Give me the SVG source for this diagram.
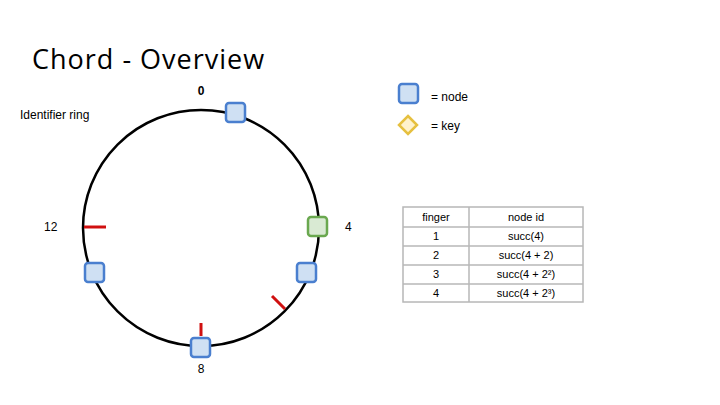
<svg xmlns="http://www.w3.org/2000/svg" width="720" height="405" viewBox="0 0 720 405">
<style>
text{font-family:"Liberation Sans",Arial,sans-serif;fill:#000}
.n{fill:#cfe0f3;stroke:#4a7fcf;stroke-width:2.5}
.g{fill:#d9ead3;stroke:#6aa84f;stroke-width:2.5}
.t{stroke:#d01010;stroke-width:3}
.c{fill:none;stroke:#b7b7b7;stroke-width:1.5}
.s{font-size:12px}
</style>
<rect width="720" height="405" fill="#fff"/>
<text x="32" y="69" font-size="27" style="font-family:'Open Sans',sans-serif;font-weight:500;letter-spacing:1px">Chord - Overview</text>
<text x="20" y="119" class="s">Identifier ring</text>
<g id="connectors">
<circle cx="201" cy="228" r="118" fill="none" stroke="#000" stroke-width="2.5"/>
<line class="t" x1="84" y1="227" x2="106" y2="227"/>
<line class="t" x1="201" y1="323" x2="201" y2="336"/>
<line class="t" x1="272" y1="296" x2="285" y2="309"/>
</g>
<text x="201" y="95" class="s" text-anchor="middle" font-weight="bold">0</text>
<text x="345" y="231" class="s">4</text>
<text x="201" y="373" class="s" text-anchor="middle">8</text>
<text x="44" y="231" class="s">12</text>
<g id="n0"><rect class="n" x="226" y="103" width="19" height="19" rx="3"/></g>
<g id="n4"><rect class="g" x="308" y="217" width="19" height="19" rx="3"/></g>
<g id="n6"><rect class="n" x="297" y="263" width="19" height="19" rx="3"/></g>
<g id="n8"><rect class="n" x="191" y="338" width="19" height="19" rx="3"/></g>
<g id="n10"><rect class="n" x="85" y="263" width="19" height="19" rx="3"/></g>
<g id="legend">
<rect class="n" x="399" y="84" width="19" height="19" rx="3"/>
<text x="431" y="101" class="s">= node</text>
<polygon points="408,116 417,125 408,134 399,125" fill="#fff2cc" stroke="#e6c040" stroke-width="2.5"/>
<text x="431" y="130" class="s">= key</text>
</g>
<g id="table" font-size="11">
<rect class="c" x="403" y="207" width="180" height="95"/>
<line class="c" x1="403" y1="227" x2="583" y2="227"/>
<line class="c" x1="403" y1="246" x2="583" y2="246"/>
<line class="c" x1="403" y1="265" x2="583" y2="265"/>
<line class="c" x1="403" y1="284" x2="583" y2="284"/>
<line class="c" x1="469" y1="207" x2="469" y2="302"/>
<g text-anchor="middle" font-size="11">
<text x="436" y="221" font-size="11">finger</text><text x="526" y="221" font-size="11">node id</text>
<text x="436" y="240" font-size="11">1</text><text x="526" y="240" font-size="11">succ(4)</text>
<text x="436" y="259" font-size="11">2</text><text x="526" y="259" font-size="11">succ(4 + 2)</text>
<text x="436" y="278" font-size="11">3</text><text x="526" y="278" font-size="11">succ(4 + 2²)</text>
<text x="436" y="297" font-size="11">4</text><text x="526" y="297" font-size="11">succ(4 + 2³)</text>
</g>
</g>
</svg>
